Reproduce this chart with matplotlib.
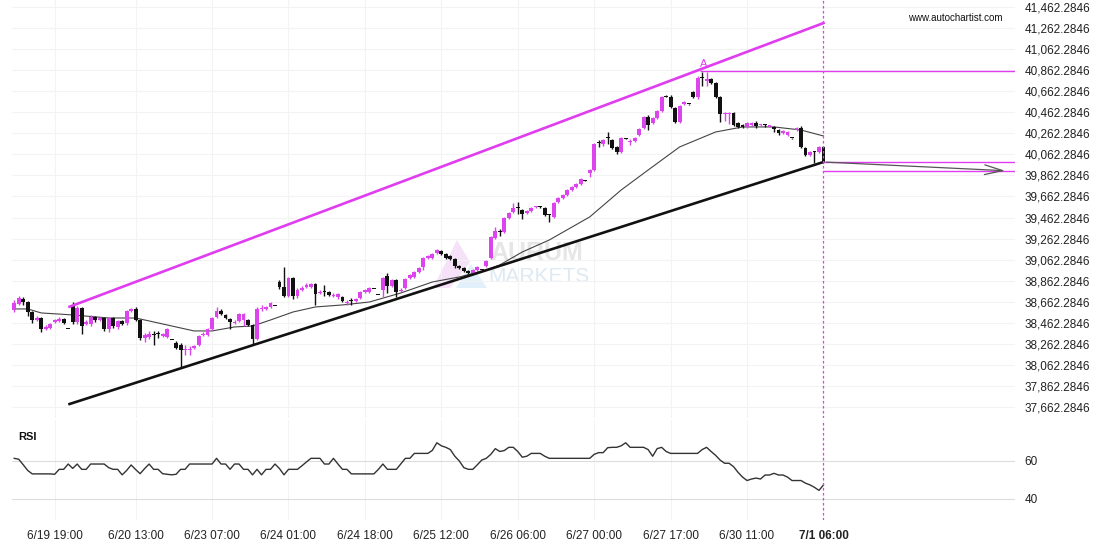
import matplotlib
matplotlib.use('Agg')
import matplotlib.pyplot as plt
import numpy as np
from matplotlib.patches import Polygon

plt.rcParams['font.family'] = ['Liberation Sans', 'DejaVu Sans']

# hourly candles, 6/19 -> 7/1 06:00
opens = [
    38584, 38641, 38689, 38660, 38565, 38489, 38508, 38404, 38413, 38470,
    38480, 38499, 38406, 38622, 38470, 38603, 38451, 38451, 38518, 38489,
    38508, 38404, 38508, 38423, 38480, 38461, 38575, 38594, 38489, 38318,
    38328, 38356, 38356, 38337, 38328, 38301, 38271, 38252, 38204, 38204,
    38223, 38252, 38347, 38347, 38404, 38518, 38575, 38537, 38499, 38461,
    38480, 38489, 38489, 38442, 38309, 38594, 38594, 38613, 38624, 38850,
    38803, 38717, 38888, 38717, 38774, 38803, 38803, 38831, 38746, 38755,
    38755, 38717, 38708, 38708, 38651, 38670, 38670, 38698, 38755, 38755,
    38786, 38729, 38774, 38907, 38812, 38869, 38765, 38793, 38888, 38898,
    38945, 38993, 39078, 39078, 39126, 39145, 39116, 39097, 39069, 39002,
    38983, 38955, 38936, 38964, 38966, 39002, 39078, 39268, 39325, 39325,
    39458, 39515, 39553, 39534, 39506, 39525, 39558, 39563, 39553, 39487,
    39468, 39610, 39648, 39677, 39724, 39753, 39781, 39812, 39886, 39914,
    40171, 40161, 40218, 40199, 40133, 40085, 40211, 40180, 40190, 40247,
    40313, 40418, 40361, 40408, 40475, 40614, 40608, 40503, 40370, 40541,
    40543, 40655, 40608, 40788, 40764, 40779, 40741, 40608, 40446, 40446,
    40456, 40361, 40342, 40323, 40342, 40361, 40337, 40342, 40327, 40323,
    40294, 40266, 40247, 40220, 40294, 40313, 40123, 40057, 40087, 40085,
    40133,
]
closes = [
    38651, 38698, 38660, 38565, 38489, 38508, 38404, 38423, 38451, 38489,
    38499, 38461, 38402, 38470, 38603, 38432, 38470, 38518, 38489, 38508,
    38404, 38508, 38432, 38480, 38451, 38575, 38594, 38489, 38318, 38347,
    38356, 38347, 38352, 38356, 38404, 38297, 38223, 38204, 38214, 38214,
    38242, 38337, 38356, 38404, 38508, 38575, 38546, 38508, 38470, 38470,
    38546, 38546, 38442, 38309, 38594, 38603, 38613, 38651, 38620, 38803,
    38717, 38888, 38717, 38774, 38793, 38822, 38831, 38736, 38755, 38751,
    38727, 38727, 38736, 38670, 38660, 38665, 38689, 38755, 38774, 38793,
    38782, 38725, 38888, 38812, 38869, 38755, 38774, 38879, 38917, 38945,
    38983, 39078, 39097, 39116, 39154, 39116, 39078, 39069, 39002, 38983,
    38955, 38936, 38964, 38993, 38962, 39050, 39278, 39335, 39321, 39458,
    39506, 39553, 39549, 39496, 39525, 39553, 39563, 39558, 39487, 39482,
    39601, 39648, 39677, 39724, 39753, 39781, 39829, 39808, 39914, 40161,
    40166, 40199, 40214, 40123, 40085, 40218, 40207, 40190, 40218, 40304,
    40418, 40342, 40408, 40475, 40608, 40610, 40513, 40370, 40522, 40560,
    40539, 40608, 40788, 40784, 40769, 40741, 40608, 40446, 40456, 40456,
    40342, 40323, 40323, 40361, 40361, 40332, 40342, 40337, 40332, 40304,
    40266, 40285, 40275, 40216, 40313, 40133, 40057, 40085, 40083, 40133,
    39990,
]
highs = [
    38679, 38717, 38708, 38670, 38575, 38527, 38518, 38442, 38461, 38499,
    38518, 38508, 38408, 38660, 38622, 38613, 38489, 38537, 38527, 38518,
    38518, 38518, 38518, 38489, 38489, 38584, 38603, 38613, 38499, 38366,
    38385, 38385, 38385, 38366, 38413, 38303, 38290, 38271, 38252, 38242,
    38252, 38347, 38375, 38413, 38518, 38613, 38594, 38546, 38508, 38489,
    38556, 38556, 38499, 38451, 38613, 38632, 38622, 38660, 38626, 38869,
    38993, 38898, 38898, 38793, 38812, 38841, 38841, 38841, 38774, 38822,
    38765, 38746, 38746, 38717, 38679, 38698, 38698, 38765, 38784, 38803,
    38788, 38731, 38898, 38936, 38879, 38879, 38793, 38888, 38926, 38955,
    38993, 39088, 39107, 39126, 39164, 39154, 39126, 39107, 39078, 39012,
    38993, 38964, 38974, 39002, 38968, 39059, 39287, 39373, 39354, 39468,
    39515, 39601, 39610, 39544, 39534, 39563, 39572, 39572, 39563, 39496,
    39610, 39658, 39686, 39734, 39762, 39791, 39838, 39815, 39924, 40171,
    40199, 40209, 40275, 40209, 40142, 40228, 40214, 40209, 40228, 40313,
    40427, 40437, 40418, 40484, 40617, 40627, 40627, 40513, 40532, 40570,
    40545, 40665, 40807, 40846, 40846, 40788, 40750, 40617, 40465, 40465,
    40465, 40370, 40351, 40370, 40370, 40380, 40351, 40351, 40342, 40332,
    40304, 40294, 40285, 40222, 40323, 40332, 40133, 40095, 40095, 40142,
    40142,
]
lows = [
    38565, 38632, 38632, 38527, 38461, 38480, 38375, 38394, 38404, 38461,
    38470, 38451, 38400, 38451, 38451, 38356, 38442, 38432, 38470, 38480,
    38385, 38375, 38413, 38404, 38442, 38442, 38565, 38480, 38299, 38280,
    38309, 38252, 38318, 38328, 38318, 38295, 38214, 38033, 38157, 38157,
    38214, 38242, 38337, 38337, 38394, 38508, 38537, 38499, 38404, 38451,
    38470, 38432, 38432, 38252, 38299, 38575, 38584, 38603, 38618, 38784,
    38708, 38708, 38689, 38698, 38765, 38793, 38793, 38632, 38736, 38717,
    38717, 38708, 38689, 38660, 38632, 38632, 38660, 38689, 38746, 38746,
    38780, 38723, 38708, 38746, 38803, 38708, 38755, 38784, 38879, 38888,
    38936, 38964, 39069, 39069, 39116, 39107, 39069, 39059, 38983, 38974,
    38945, 38926, 38926, 38955, 38960, 38993, 39069, 39259, 39287, 39316,
    39449, 39506, 39496, 39449, 39496, 39515, 39553, 39553, 39477, 39420,
    39458, 39601, 39639, 39667, 39715, 39743, 39772, 39805, 39848, 39905,
    40133, 40142, 40161, 40114, 40066, 40076, 40204, 40152, 40180, 40237,
    40304, 40294, 40351, 40399, 40465, 40607, 40503, 40361, 40361, 40532,
    40534, 40598, 40589, 40712, 40712, 40731, 40598, 40370, 40380, 40351,
    40332, 40313, 40313, 40313, 40332, 40313, 40332, 40323, 40323, 40275,
    40247, 40256, 40237, 40213, 40285, 40123, 40047, 40047, 39981, 40076,
    39981,
]

# moving average (bar index, price)
ma_bars = [0, 3, 6, 13, 21, 27, 30, 36, 40, 44, 49, 53, 57, 62, 67, 73, 79,
           86, 93, 99, 105, 108, 113, 119, 128, 135, 141, 148, 156, 162, 169,
           175, 180]
ma_vals = [38594, 38594, 38556, 38537, 38508, 38508, 38480, 38423, 38385,
           38385, 38423, 38432, 38489, 38565, 38613, 38632, 38660, 38746,
           38850, 38898, 38964, 39012, 39135, 39249, 39468, 39724, 39914,
           40133, 40275, 40323, 40323, 40294, 40237]

rsi = [
    61.4, 60.9, 58.0, 55.0, 53.2, 53.2, 53.2, 53.2, 53.2, 53.0,
    55.6, 55.6, 58.4, 56.1, 58.4, 55.6, 55.6, 58.4, 58.4, 58.4,
    58.4, 56.5, 55.6, 55.6, 52.7, 55.0, 57.9, 55.5, 53.3, 56.0,
    58.4, 55.6, 55.6, 53.3, 53.0, 52.7, 53.0, 55.6, 55.6, 58.4,
    58.4, 58.4, 58.4, 58.4, 58.4, 61.4, 58.4, 58.4, 55.6, 58.4,
    58.4, 55.6, 55.6, 52.7, 55.6, 52.7, 55.6, 55.6, 58.4, 56.0,
    52.7, 55.6, 55.6, 55.6, 57.5, 59.5, 61.4, 61.4, 61.4, 58.4,
    58.4, 61.4, 58.4, 55.6, 55.6, 53.2, 53.2, 53.2, 53.2, 53.2,
    53.2, 55.6, 58.4, 55.6, 55.6, 55.6, 58.5, 61.4, 61.4, 64.0,
    64.0, 64.0, 64.0, 65.6, 69.6, 68.0, 67.2, 66.0, 62.5, 60.0,
    56.5, 55.6, 55.6, 58.0, 60.5, 61.4, 63.5, 66.5, 65.0, 65.5,
    67.2, 67.2, 65.0, 62.0, 62.5, 64.0, 64.0, 64.0, 62.5, 61.4,
    61.4, 61.4, 61.4, 61.4, 61.4, 61.4, 61.4, 61.4, 61.4, 63.5,
    64.4, 64.4, 67.0, 67.2, 67.2, 68.0, 69.6, 67.2, 67.2, 67.2,
    67.2, 66.0, 62.5, 66.5, 67.2, 65.0, 64.0, 64.0, 64.0, 64.0,
    64.0, 64.0, 64.0, 66.0, 67.2, 65.0, 63.0, 60.5, 58.8, 58.8,
    57.0, 54.0, 51.5, 49.7, 50.5, 51.0, 50.5, 52.6, 52.6, 53.5,
    52.6, 52.6, 51.5, 49.7, 49.7, 49.7, 48.3, 47.4, 46.1, 44.5,
    47.4,
]

tick_bars = [9, 27, 44, 61, 78, 95, 112, 129, 146, 163, 180]
tick_labels = ['6/19 19:00', '6/20 13:00', '6/23 07:00', '6/24 01:00',
               '6/24 18:00', '6/25 12:00', '6/26 06:00', '6/27 00:00',
               '6/27 17:00', '6/30 11:00', '7/1 06:00']

# pattern lines (bar, price)
upper_line = ([12.3, 180], [38615, 41310])
lower_line = ([12.3, 180], [37691, 39990])
resistance = 40857
last_bar = 180
target_hi, target_lo = 39990, 39906
proj_end = 221

MAG = '#dc44ee'
LMAG = '#e03cf0'
W, H = 1110, 550

fig = plt.figure(figsize=(W / 100, H / 100), dpi=100)
ax = fig.add_axes([12 / W, 1 - 418 / H, 1003 / W, 418 / H])
ax_rsi = fig.add_axes([12 / W, 1 - 520 / H, 1003 / W, 100 / H], sharex=ax)

o = np.array(opens)
c = np.array(closes)
x = np.arange(len(c))
up = c >= o
cols = np.where(up, MAG, '#111111')
ax.vlines(x, lows, highs, colors=cols, linewidth=1, zorder=3)
ax.bar(x, np.maximum(np.abs(c - o), 10), bottom=np.minimum(o, c), width=0.86,
       color=cols, linewidth=0, zorder=4)

ax.plot(ma_bars, ma_vals, color='#444444', lw=0.8, zorder=2)

xmax = 222.6
ax.plot(*upper_line, color=LMAG, lw=1.9, zorder=5)
ax.plot(*lower_line, color='#111111', lw=1.9, zorder=5)
ax.hlines(resistance, 152.5, xmax, color=LMAG, lw=1, zorder=5)
ax.hlines([target_hi, target_lo], last_bar, xmax, color=LMAG, lw=1, zorder=5)
ax.annotate('', xy=(proj_end, target_lo), xytext=(last_bar, target_hi),
            arrowprops=dict(arrowstyle='->,head_length=1.3,head_width=0.35',
                            color='#555555', lw=0.9), zorder=6)
ax.text(153.4, 40925, 'A', color=LMAG, fontsize=8, ha='center', va='center')
for a in (ax, ax_rsi):
    a.axvline(last_bar, color=LMAG, lw=0.9, ls=(0, (2, 2)), zorder=6)

ax.set_xlim(-0.5, xmax)
ax.set_ylim(37558, 41529)
yt = np.arange(37662.2846, 41500, 200)
ax.set_yticks(yt)
ax.set_yticklabels([f'{v:,.4f}' for v in yt])

ax_rsi.plot(x, rsi, color='#333333', lw=1)
ax_rsi.set_ylim(28.9, 81.6)
ax_rsi.set_yticks([40, 60])
ax_rsi.set_yticklabels(['40', '60'])
ax_rsi.set_xticks(tick_bars)
ax_rsi.set_xticklabels(tick_labels)
ax_rsi.get_xticklabels()[-1].set_fontweight('bold')

for a in (ax, ax_rsi):
    a.yaxis.tick_right()
    for s in a.spines.values():
        s.set_visible(False)
    a.tick_params(length=0, labelsize=8.5, colors='#222222', pad=7)
    a.set_facecolor('none')
ax.tick_params(labelbottom=False)
ax.grid(True, color='#f3f3f3', lw=0.8, zorder=0)
ax_rsi.grid(axis='x', color='#f3f3f3', lw=0.8)
ax_rsi.grid(axis='y', color='#dcdcdc', lw=0.8)
ax.set_axisbelow(True)
ax_rsi.set_axisbelow(True)

# watermark
tf = fig.transFigure
def fp(px, py):
    return (px / W, 1 - py / H)
ax.add_patch(Polygon([fp(433, 288), fp(457, 240), fp(470, 262), fp(450, 288)],
                     closed=True, transform=tf, color='#f5e1f8', lw=0, zorder=0))
ax.add_patch(Polygon([fp(456, 288), fp(471, 264), fp(487, 288)],
                     closed=True, transform=tf, color='#e2f0fb', lw=0, zorder=0))
ax.text(*fp(490, 253), 'AURUM', transform=tf, fontsize=18, fontweight='bold',
        color='#e6e6e6', va='center', ha='left', zorder=0)
ax.text(*fp(488, 276), 'MARKETS', transform=tf, fontsize=15,
        color='#dde9f3', va='center', ha='left', zorder=0)

ax.text(*fp(1003, 18), 'www.autochartist.com', transform=tf, fontsize=7,
        color='#111111', va='center', ha='right')
ax_rsi.text(*fp(18, 437), 'RSI', transform=tf, fontsize=8, fontweight='bold',
            color='#111111', va='center', ha='left')

fig.savefig('out.png', dpi=100)
